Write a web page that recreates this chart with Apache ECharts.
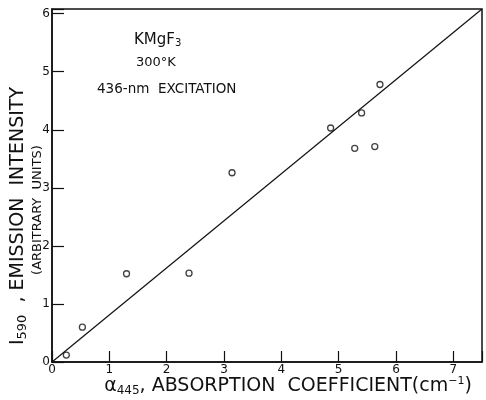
<!DOCTYPE html>
<html><head><meta charset="utf-8">
<script src="https://cdn.jsdelivr.net/npm/echarts@6/dist/echarts.min.js"></script>
<style>html,body{margin:0;padding:0;background:#fff}#c{width:486px;height:400px}</style>
</head><body><div id="c"></div>
<script>
const absorption = [0.25, 0.53, 1.3, 2.39, 3.14, 4.86, 5.28, 5.4, 5.63, 5.72];
const emission   = [0.12, 0.6, 1.52, 1.53, 3.26, 4.03, 3.68, 4.29, 3.71, 4.78];
const fitX = [0, 7.5];
const fitY = [0, 6.08];
const xTicks = [0, 1, 2, 3, 4, 5, 6, 7];
const yTicks = [0, 1, 2, 3, 4, 5, 6];

const font = 'DejaVu Sans';
const chart = echarts.init(document.getElementById('c'));
chart.setOption({
  animation: false,
  backgroundColor: '#fff',
  grid: {left: 52, right: 4, top: 9, bottom: 38, show: true, borderColor: '#111', borderWidth: 1.5},
  xAxis: {
    type: 'value', min: 0, max: 7.5, interval: 1,
    axisLine: {show: true, onZero: false, lineStyle: {color: '#111', width: 1.5}},
    axisTick: {show: true, inside: true, length: 11, lineStyle: {color: '#111', width: 1.2}},
    axisLabel: {color: '#111', fontFamily: font, fontSize: 12, margin: 2,
      formatter: v => xTicks.includes(v) ? String(v) : ''},
    splitLine: {show: false}
  },
  yAxis: {
    type: 'value', min: 0, max: 6.08, interval: 1,
    axisLine: {show: true, onZero: false, lineStyle: {color: '#111', width: 1.5}},
    axisTick: {show: true, inside: true, length: 12, lineStyle: {color: '#111', width: 1.2}},
    axisLabel: {color: '#111', fontFamily: font, fontSize: 12, margin: 2,
      formatter: v => yTicks.includes(v) ? String(v) : ''},
    splitLine: {show: false}
  },
  series: [
    {type: 'line', data: fitX.map((x, i) => [x, fitY[i]]), showSymbol: false, symbol: 'none',
     lineStyle: {color: '#111', width: 1.2}},
    {type: 'scatter', data: absorption.map((x, i) => [x, emission[i]]), symbol: 'circle', symbolSize: 6,
     itemStyle: {color: '#fff', borderColor: '#111', borderWidth: 1.3}}
  ],
  graphic: [
    {type: 'text', left: 134, top: 33, style: {text: 'KMgF{sub|3}', fill: '#111', font: '15px ' + font,
      rich: {sub: {fontSize: 10, verticalAlign: 'bottom', padding: [6, 0, 0, 0], fill: '#111', fontFamily: font}}}},
    {type: 'text', left: 136, top: 56, style: {text: '300°K', fill: '#111', font: '13px ' + font}},
    {type: 'text', left: 97, top: 82, style: {text: '436-nm  EXCITATION', fill: '#111', font: '13.5px ' + font}},
    {type: 'text', x: 18, y: 216, rotation: Math.PI / 2,
      style: {text: 'I{sub|590}  , EMISSION  INTENSITY', fill: '#111', font: '19px ' + font, align: 'center', verticalAlign: 'middle',
        rich: {sub: {fontSize: 13, fill: '#111', fontFamily: font, padding: [9, 0, 0, 0]}}}},
    {type: 'text', x: 38, y: 210, rotation: Math.PI / 2,
      style: {text: '(ARBITRARY  UNITS)', fill: '#111', font: '13px ' + font, align: 'center', verticalAlign: 'middle'}},
    {type: 'text', x: 288, y: 386,
      style: {text: 'α{sub|445}, ABSORPTION  COEFFICIENT(cm{sup|−1})', fill: '#111', font: '19px ' + font, align: 'center', verticalAlign: 'middle',
        rich: {sub: {fontSize: 12, fill: '#111', fontFamily: font, verticalAlign: 'bottom', padding: [8, 0, 0, 0]},
               sup: {fontSize: 11, fill: '#111', fontFamily: font, verticalAlign: 'top', padding: [0, 0, 10, 0]}}}}
  ]
});
</script></body></html>
